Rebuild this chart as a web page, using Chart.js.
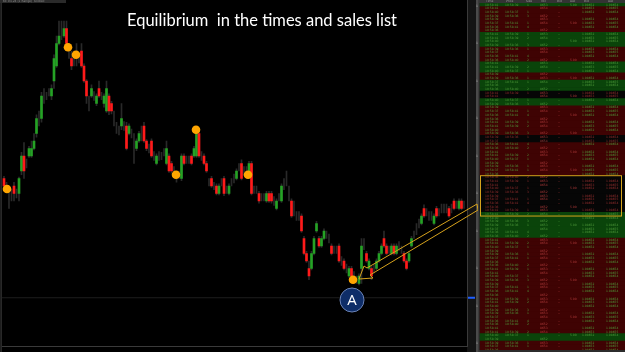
<!DOCTYPE html>
<html><head><meta charset="utf-8">
<script src="https://cdn.jsdelivr.net/npm/chart.js@4/dist/chart.umd.min.js"></script>
<style>
html,body{margin:0;padding:0;background:#000;overflow:hidden;}
#wrap{position:relative;width:625px;height:352px;background:#000;}
#c1{position:absolute;left:0;top:0;}
#c2{position:absolute;left:478px;top:0;}
</style></head><body>
<div id="wrap">
<canvas id="c1" width="478" height="352"></canvas>
<canvas id="c2" width="147" height="352"></canvas>
</div>
<script>
// ---------- DATA (price in ticks above chart floor) ----------
const opens  = [22,21,20.5,20,21,20,20,23,25,24,25,25,26,28,30,30,33,33,33.5,33,35,37,40,41,41,42,39,38,38,38,38,39,37,35,32.5,33,33,32,34,33,32,31,33,32,30.5,29,28.5,29,29,29,28,28,27,26,27,28,29,27,26,27,25,24,25,25,25.5,24,25,24,23,22.5,22.5,22,25,24.5,24.5,25,25,25,28,25,25,24,21.5,22,21,21,20,21.5,22,20.5,20,21.5,22,22,23.5,24,23,23,23,24,20.5,20.5,20,19.5,19.5,19,20,20,19,18,19.5,19,21,21.5,20,19,18,17,17,17,14,12,10,10,12,15,14,13,14,14.5,14,13,12.5,12.5,13,11,11,10,9,10,9,8.5,8,10,12.5,12,10,10,10,10,11,12,14,13,12.5,12,13,12,13,12.5,12,11,11,13,14.5,15,16,16,18,17.5,17,17,16,18,17.5,18,18,18,18,18,19,18.5,18,19,18.5];
const closes = [21,21,20.5,20,20,20,22,25,23,24,26,26,27,30,30,33,33,33,33.5,34,38,40,41,41,42,40,39,37,38,38,38,37,35,33,32.5,34,33,33,33,33,33,34,31,31,30.5,29,28.5,30,29,26,29,28,27,27,28,28,27,26,26,25,25,25,25,25,25.5,26,23,23,23,22.5,22.5,25,24,24.5,24.5,24,26,28,25,25,24,23,21.5,21,21,20,21,21.5,20,20.5,21,21.5,22,23,23.5,22,23,23,24,20,20.5,20.5,19,19.5,19.5,20,19,19,19,19,19.5,21,21,21.5,20,17,18,17,17,15,12,11,9,12,14,16,13,14,15,14.5,14,12,12.5,12.5,11,11,10,10,10,9,9,8.5,9,13,12.5,11,11,9,10,11,12,13,13,12,12.5,13,12,13,13,12.5,11,10,12,14,14.5,15,16,17,17,17.5,17,17,17,17,17.5,18,18,18,17,18,18,18.5,19,18,18.5];
const highs  = [22.3,21.5,21,20.6,21.5,20.6,22.2,25.5,26.8,24.6,26.3,27,28,30.5,31,33.5,34,33.5,34,34.5,38.5,41,43,43,43,43,40,39,39,40,38.8,40,37.3,35.2,33,34.5,33.6,33.3,35,33.5,33.3,35,33.3,32.3,31,29.5,29,32,29.6,29.5,29.3,28.6,28,27.3,28.3,29,29.5,27.2,26.6,27.3,25.6,25.3,25.6,25.5,26,27,25.3,24.3,23.6,23,23,25.3,25.3,25,25,25.3,26.3,28.5,28.6,25.6,25.3,24.3,22,22.3,21.5,21.3,21.3,22,22.3,21,21.3,22,22.6,23.3,24,24.5,23.6,23.6,24.3,24.3,21,21,20.3,20,20,20.3,20.3,20.3,19.6,19.3,20,21.3,22,23,21,19.3,19,17.6,17.6,17.3,14.3,12.3,11,12.3,14.3,16.3,14.3,14.3,15.3,15,14.6,13.3,13,13,13.3,11.6,11.3,10.6,10.3,10.3,9.6,9,9.3,14,14,12.3,11.3,10.3,10.6,11.3,12.3,13.3,15,13.3,13,13.3,13.3,13.3,13.6,13,12.3,11.3,12.3,14.3,15,16,16.6,17.3,18.5,18,17.6,17.6,17.3,18.3,18,18.6,18.6,18.6,18.3,18.6,19.3,19,19.3,19.3,19];
const lows   = [20.5,20.2,18,19,19,19.4,19,22.5,22,23.4,24.8,24.8,25.8,27.5,29,29.5,32,32.5,33,32.5,34,36.8,39.8,40.5,40.8,39.5,38,36.5,37,37,37.4,36.8,34.8,32,31,32.8,32.4,31.7,32.8,32.5,31.5,30.8,30.5,30.6,29,28,27.8,28.5,28.4,25.8,27.8,27.4,24,25.7,26.8,27,26.8,25.7,25.4,24.8,24.4,23.8,24.4,24.5,25,23.8,22.8,22.7,22.4,21.5,22,21.7,23.8,24,24,23.8,24.8,24.8,24.8,24.4,23.8,22.8,21,20.8,20.5,19.8,19.8,21,19.7,20,19.8,21,21.4,21.8,23,21.8,22.4,22.4,22.8,19.8,20,20,18.7,19,19,18.8,18.8,18.7,18.4,17.8,19,18.8,20.5,21,19,16.8,17,16.4,16.4,14.8,11.8,10.8,8.5,9.8,11.8,14.8,12.8,12.8,13.8,14,13.4,11.8,12,12,10.8,10.4,9.8,9.4,8.8,8.7,8.4,8,7.8,8,12.5,10.8,9.8,8.5,9.4,9.8,10.8,11.8,12.8,11.8,12,11.8,11.8,11.8,12.4,12,10.8,9.8,10.8,12.8,14,14.5,15.4,15.8,16.8,17,16.4,16.4,15.8,16.8,17,17.4,17.4,17.4,16.8,17.4,17.8,18,17.8,17.8,18];

const yTickLabels = ['1.08640','1.08645','1.08650','1.08655','1.08660','1.08665','1.08670','1.08675','1.08680','1.08685'];
const xTickLabels = ['10:02','10:04','10:07','10:09','10:12','10:15','10:17','10:20','10:22','10:25','10:28','10:30','10:33','10:35','10:38','10:41','10:43','10:46','10:48','10:51','10:54','10:56','10:59','11:01','11:04','11:07','11:09'];

// orange equilibrium markers: [slot, price]
const eqSlots  = [1.2, 25.6, 28.8, 68.8, 76.8, 97.6, 139.6];
const eqPrices = [20.6, 39.5, 38.5, 22.5, 28.5, 22.5, 8.5];
// label "A" marker
const markSlots = [139.2];
const markPrices = [5.8];
const markTexts = ['A'];
// last-price line
const lastPrice = 6.1;
// arrow pointing from the list to point A: [slot, price]
const arrowSlots  = [189.2, 145.2, 144, 142, 147.6, 146.4, 189.6, 189.2];
const arrowPrices = [18.6, 10.07, 10.33, 8.6, 8.73, 9.13, 17.8, 18.6];

const titleText = 'Equilibrium  in the times and sales list';
const topInfo = '6E 03-24 (1 Range)  Globex';

// ---------- TIMES & SALES LIST ----------
const rowColors = ['g','r','r','r','r','r','r','r','g','g','g','g','r','r','r','r','g','g','g','r','r','g','g','g','k','k','g','g','r','r','r','r','r','r','r','r','k','k','r','r','r','r','r','r','r','r','r','k','k','k','k','k','k','k','k','k','k','g','g','g','g','g','g','g','r','r','r','r','r','r','r','r','r','r','r','r','r','r','r','r','r','r','r','r','r','r','r','r','r','r','g','g','r','r','r'];
const tsTimes  = ['10:58:41','10:58:41','10:58:40','10:58:39','10:58:39','10:58:37','10:58:36','10:58:36'];
const tsPrices = ['1.08653','1.08654','1.08653','1.08652','1.08653','1.08654','1.08653','1.08652'];
const tsSizes  = ['1','2','1','3','1','1','4','2'];
const tsBids   = ['1.08652','1.08653','1.08652','1.08651'];
const tsAsks   = ['1.08654','1.08655','1.08654','1.08653'];
const highlightRows = [47, 57];
const headerCols = ['Time','Price','Size','Vol','Bid','Ask','Bid','Ask'];

// ---------- CHART 1 ----------
const GREEN = '#25a225', RED = '#ff1a1a', WICK = '#292929';
const idx = opens.map((_, i) => i);
const wickData = idx.map(i => ({x: i, y: [lows[i], highs[i]]}));
const bodyIdx = idx.filter(i => opens[i] !== closes[i]);
const bodyData = bodyIdx.map(i => ({x: i, y: [opens[i], closes[i]]}));
const bodyCols = bodyIdx.map(i => closes[i] > opens[i] ? GREEN : RED);
const eqData = eqSlots.map((s, i) => ({x: s, y: eqPrices[i]}));
const markData = markSlots.map((s, i) => ({x: s, y: markPrices[i]}));
const arrowData = arrowSlots.map((s, i) => ({x: s, y: arrowPrices[i]}));

const decorPlugin = {
  id: 'decor',
  beforeDraw(chart) {
    const {ctx, width, height, chartArea: a} = chart;
    ctx.save();
    ctx.fillStyle = '#000';
    ctx.fillRect(0, 0, width, height);
    ctx.fillStyle = '#141414';
    ctx.fillRect(a.right, 0, width - a.right, height);
    ctx.fillStyle = '#4a4a4a';
    ctx.fillRect(width - 2, 0, 2, height);
    ctx.fillStyle = '#3a3a3a';
    ctx.fillRect(0.5, 0, 1.2, height);
    ctx.fillRect(a.right, 0, 1, a.bottom);
    ctx.fillStyle = '#2a2a2a';
    ctx.fillRect(0, 0, 66, 3);
    ctx.fillStyle = '#8a8a8a';
    ctx.font = '3px "DejaVu Sans"';
    ctx.textBaseline = 'top';
    ctx.fillText(topInfo, 3, 0);
    ctx.restore();
  },
  afterDatasetsDraw(chart) {
    const {ctx, chartArea: a, scales: {y}} = chart;
    ctx.save();
    const yp = y.getPixelForValue(lastPrice);
    ctx.fillStyle = '#1f5fff';
    ctx.fillRect(a.right + 1, yp - 1, 7, 2);
    const meta = chart.getDatasetMeta(5);
    ctx.fillStyle = '#fff';
    ctx.font = '15px "Open Sans"';
    ctx.textAlign = 'center';
    ctx.textBaseline = 'middle';
    meta.data.forEach((pt, i) => ctx.fillText(markTexts[i], pt.x, pt.y + 1));
    ctx.font = '17px Lato';
    const w = ctx.measureText(titleText).width;
    const cx = 262, k = 270 / w;
    ctx.translate(cx, 21);
    ctx.scale(k, 1);
    ctx.fillStyle = '#ffffff';
    ctx.fillText(titleText, 0, 0);
    ctx.restore();
  }
};

new Chart(document.getElementById('c1'), {
  type: 'bar',
  data: {
    datasets: [
      {type: 'bar', data: wickData, backgroundColor: WICK, barThickness: 1, grouped: false, order: 10},
      {type: 'bar', data: bodyData, backgroundColor: bodyCols, barThickness: 2, grouped: false, order: 9},
      {type: 'line', data: [{x: -0.8, y: lastPrice}, {x: 185.2, y: lastPrice}], borderColor: '#1e1e1e', borderWidth: 1, pointRadius: 0, order: 11},
      {type: 'line', data: eqData, showLine: false, pointRadius: 4.3, pointBackgroundColor: '#ffa500', pointBorderWidth: 0, order: 4},
      {type: 'line', data: arrowData, borderColor: '#d6a21c', borderWidth: 1, pointRadius: 0, tension: 0, clip: false, order: 5},
      {type: 'line', data: markData, showLine: false, pointRadius: 12, pointBackgroundColor: '#0e2d68', pointBorderColor: '#6b83b5', pointBorderWidth: 1, order: 3}
    ]
  },
  options: {
    responsive: false,
    animation: false,
    devicePixelRatio: 1,
    layout: {autoPadding: false, padding: {left: 2, top: 0, right: 0, bottom: 0}},
    plugins: {legend: {display: false}, tooltip: {enabled: false}, title: {display: false}},
    scales: {
      x: {
        type: 'linear', min: -0.8, max: 185.2, offset: false,
        grid: {display: false},
        border: {display: true, color: '#3a3a3a'},
        afterFit(s) { s.height = 5.5; s.paddingLeft = 0; s.paddingRight = 0; },
        afterBuildTicks(s) { s.ticks = xTickLabels.map((_, i) => ({value: i * 7})); },
        ticks: {autoSkip: false, maxRotation: 0, padding: 0, color: '#8c8c8c', font: {size: 3, family: 'DejaVu Sans'},
          callback: (v) => xTickLabels[Math.round(v / 7)] }
      },
      y: {
        type: 'linear', position: 'right', min: -0.4, max: 45.8,
        grid: {display: false},
        border: {display: false},
        afterFit(s) { s.width = 11; s.paddingTop = 0; s.paddingBottom = 0; },
        afterBuildTicks(s) { s.ticks = yTickLabels.map((_, i) => ({value: i * 5})); },
        ticks: {padding: 1, color: '#b0b0b0', font: {size: 3, family: 'DejaVu Sans'},
          callback: (v) => yTickLabels[Math.round(v / 5)] }
      }
    }
  },
  plugins: [decorPlugin]
});

// ---------- CHART 2 : times & sales ----------
const ROWC = {g: '#0a440a', r: '#3f0303', k: '#060606'};
const rowIds = rowColors.map((_, i) => i);
const tsPlugin = {
  id: 'ts',
  beforeDraw(chart) {
    const {ctx, width, height} = chart;
    ctx.save();
    ctx.fillStyle = '#0b0b0b';
    ctx.fillRect(0, 0, width, height);
    ctx.fillStyle = '#333';
    ctx.fillRect(0, 0, width, 3);
    ctx.fillStyle = '#9a9a9a';
    ctx.font = '3px "DejaVu Sans"';
    ctx.textBaseline = 'top';
    const hx = [8, 28, 48, 63, 79, 92, 106, 130];
    headerCols.forEach((t, i) => ctx.fillText(t, hx[i], 0));
    ctx.restore();
  },
  afterDatasetsDraw(chart) {
    const {ctx, scales: {y}} = chart;
    ctx.save();
    ctx.font = '3px "DejaVu Sans"';
    ctx.textBaseline = 'middle';
    rowColors.forEach((c, r) => {
      const yp = y.getPixelForValue(r);
      const txtG = c === 'k' ? '#9a3030' : '#4f9a3a';
      const txtR = c === 'g' ? '#4f9a3a' : '#b03a3a';
      ctx.fillStyle = txtG;
      ctx.fillText(tsTimes[r % tsTimes.length], 7, yp);
      if (r % 3 !== 1) ctx.fillText(tsTimes[(r + 3) % tsTimes.length], 27, yp);
      if (r % 3 !== 1) ctx.fillText(tsSizes[r % tsSizes.length], 49, yp);
      ctx.fillStyle = txtR;
      if (r % 4 !== 2) ctx.fillText(tsPrices[r % tsPrices.length].slice(3), 62, yp);
      if (r % 3 !== 1) ctx.fillText('--', 80, yp);
      if (r % 5 === 0) ctx.fillText('5.00', 92, yp);
      ctx.fillStyle = txtG;
      if (r % 4 !== 3) ctx.fillText(tsBids[r % tsBids.length], 104, yp);
      if (r % 4 !== 3) ctx.fillText(tsAsks[r % tsAsks.length], 128, yp);
    });
    const y0 = y.getPixelForValue(highlightRows[0]) - 1.8;
    const y1 = y.getPixelForValue(highlightRows[1]) + 1.8;
    ctx.strokeStyle = '#d6a21c';
    ctx.lineWidth = 1;
    ctx.strokeRect(2.5, y0, 141, y1 - y0);
    ctx.fillStyle = '#2c2c2c';
    ctx.fillRect(0, chart.height - 2, chart.width, 2);
    ctx.fillStyle = '#3a3a3a';
    ctx.fillRect(0, 0, 1.5, chart.height);
    ctx.restore();
  }
};

new Chart(document.getElementById('c2'), {
  type: 'bar',
  data: {
    labels: rowIds,
    datasets: [{
      data: rowIds.map(() => 1),
      backgroundColor: rowColors.map(c => ROWC[c]),
      categoryPercentage: 1, barPercentage: 1, borderWidth: 0
    }]
  },
  options: {
    indexAxis: 'y',
    responsive: false,
    animation: false,
    devicePixelRatio: 1,
    layout: {padding: {left: 1.5, top: 3, right: 0, bottom: 0}},
    plugins: {legend: {display: false}, tooltip: {enabled: false}},
    scales: {
      x: {display: false, min: 0, max: 1},
      y: {display: false, offset: true}
    }
  },
  plugins: [tsPlugin]
});
</script>
</body></html>
